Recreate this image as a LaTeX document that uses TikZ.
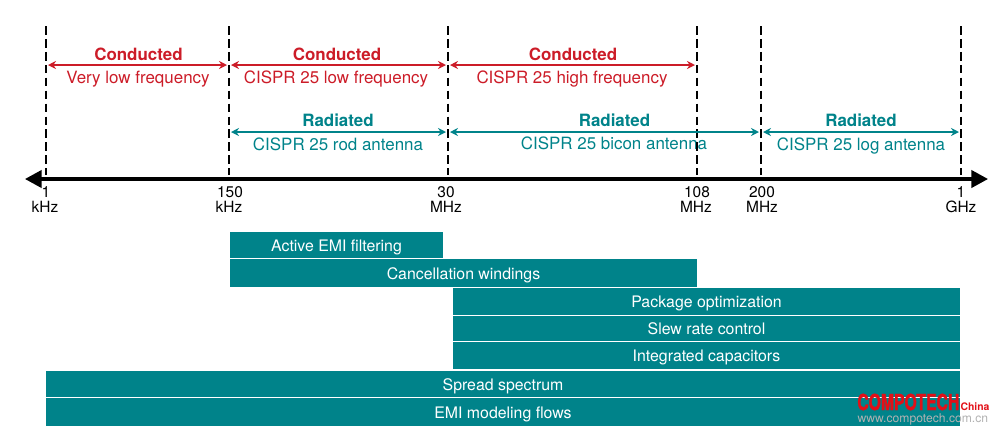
\documentclass[tikz,border=0pt]{standalone}
\usepackage{fontspec}
\setmainfont{TeX Gyre Heros}
\newfontfamily\markfont[BoldFeatures={FakeBold=2}]{TeX Gyre Heros}
\usetikzlibrary{arrows.meta}

\definecolor{condred}{RGB}{204,28,40}
\definecolor{radteal}{RGB}{0,131,138}
\definecolor{markred}{RGB}{226,16,24}

\tikzset{
    every picture/.style={line width=0.75pt},
    tickline/.style={line width=1.5pt, dash pattern=on 6.5pt off 3.2pt},
    axisline/.style={line width=2.3pt, {Triangle[length=12.5pt,width=13pt]}-{Triangle[length=12.5pt,width=13pt]}},
    bandarrow/.style={line width=1.1pt, {Stealth[length=6pt,width=6pt]}-{Stealth[length=6pt,width=6pt]}, shorten >=1.5pt, shorten <=1.5pt},
    headtext/.style={anchor=base, inner sep=0pt, font=\fontsize{12.7pt}{14pt}\selectfont\bfseries},
    subtext/.style={anchor=base, inner sep=0pt, font=\fontsize{12.7pt}{14pt}\selectfont},
    ticktext/.style={anchor=base, inner sep=0pt, font=\fontsize{11.6pt}{13pt}\selectfont},
    barbox/.style 2 args={fill=radteal, text=white, inner sep=0pt, minimum width=#1*0.75pt, minimum height=#2*0.75pt,
        text height=9.2pt, text depth=0pt, font=\fontsize{11.9pt}{14pt}\selectfont},
}

\begin{document}
\begin{tikzpicture}[x=0.75pt,y=0.75pt,yscale=-1,xscale=1]
    \useasboundingbox (0,0) rectangle (996,430);

    % Coordinates of the ticks
    \coordinate (topA) at (46,26);   \coordinate (axisA) at (46,175);
    \coordinate (topB) at (229,26);  \coordinate (axisB) at (229,175);
    \coordinate (topC) at (448,26);  \coordinate (axisC) at (448,175);
    \coordinate (topD) at (697,26);  \coordinate (axisD) at (697,175);
    \coordinate (topE) at (761,26);  \coordinate (axisE) at (761,175);
    \coordinate (topF) at (961,26);  \coordinate (axisF) at (961,175);
    \coordinate (axisL) at (25,179); \coordinate (axisR) at (988,179);

    % Coordinates of the bands
    \coordinate (condA) at (46,65);  \coordinate (condB) at (229,65);
    \coordinate (condC) at (448,65); \coordinate (condD) at (697,65);
    \coordinate (radB) at (229,132); \coordinate (radC) at (448,132);
    \coordinate (radE) at (761,132); \coordinate (radF) at (961,132);

    % Text Node
    \node [headtext, text=condred] (condhead1) at (138.5,60) {Conducted};
    \node [subtext, text=condred] (condsub1) at (138,83.3) {Very low frequency};
    \node [headtext, text=condred] (condhead2) at (337,60) {Conducted};
    \node [subtext, text=condred] (condsub2) at (336,83.3) {CISPR 25 low frequency};
    \node [headtext, text=condred] (condhead3) at (573,60) {Conducted};
    \node [subtext, text=condred] (condsub3) at (572,83.3) {CISPR 25 high frequency};
    \node [headtext, text=radteal] (radhead1) at (338,126.7) {Radiated};
    \node [subtext, text=radteal] (radsub1) at (338,150) {CISPR 25 rod antenna};
    \node [headtext, text=radteal] (radhead2) at (614.5,126) {Radiated};
    \node [subtext, text=radteal] (radsub2) at (614,149) {CISPR 25 bicon antenna};
    \node [headtext, text=radteal] (radhead3) at (861,126.7) {Radiated};
    \node [subtext, text=radteal] (radsub3) at (861,150) {CISPR 25 log antenna};

    % Dashed Lines
    \draw [tickline] (topA) -- (axisA);
    \draw [tickline] (topB) -- (axisB);
    \draw [tickline] (topC) -- (axisC);
    \draw [tickline] (topD) -- (axisD);
    \draw [tickline] (topE) -- (axisE);
    \draw [tickline] (topF) -- (axisF);

    % Band Arrows
    \draw [bandarrow, condred] (condA) -- (condB);
    \draw [bandarrow, condred] (condB) -- (condC);
    \draw [bandarrow, condred] (condC) -- (condD);
    \draw [bandarrow, radteal] (radB) -- (radC);
    \draw [bandarrow, radteal] (radC) -- (radE);
    \draw [bandarrow, radteal] (radE) -- (radF);

    % Axis
    \draw [axisline] (axisL) -- (axisR);

    % Text Node
    \node [ticktext] (value1) at (46,197) {1};
    \node [ticktext] (unit1) at (45,212) {kHz};
    \node [ticktext] (value2) at (230,197) {150};
    \node [ticktext] (unit2) at (229,212) {kHz};
    \node [ticktext] (value3) at (446,197) {30};
    \node [ticktext] (unit3) at (446,212) {MHz};
    \node [ticktext] (value4) at (697,197) {108};
    \node [ticktext] (unit4) at (696,212) {MHz};
    \node [ticktext] (value5) at (762,197) {200};
    \node [ticktext] (unit5) at (762,212) {MHz};
    \node [ticktext] (value6) at (961,197) {1};
    \node [ticktext] (unit6) at (961,212) {GHz};

    % Bars
    \node [barbox={213}{26}] (filtering) at (336.5,245) {Active EMI filtering};
    \node [barbox={467}{28}] (windings) at (463.5,273) {Cancellation windings};
    \node [barbox={507}{27}] (package) at (706.5,301.5) {Package optimization};
    \node [barbox={507}{25}] (slewrate) at (706.5,328.5) {Slew rate control};
    \node [barbox={507}{27}] (capacitors) at (706.5,355.5) {Integrated capacitors};
    \node [barbox={914}{26}] (spectrum) at (503,384) {Spread spectrum};
    \node [barbox={914}{28}] (modeling) at (503,412) {EMI modeling flows};

    % Text Node
    \node [anchor=base west, inner sep=0pt, text=markred, xscale=0.715, font=\fontsize{16.5pt}{18pt}\selectfont\markfont\bfseries] (markname) at (857,410) {COMPOTECH};
    \node [anchor=base west, inner sep=0pt, text=markred, font=\fontsize{7.8pt}{9pt}\selectfont\bfseries] (markcountry) at (960,410) {China};
    \node [anchor=base west, inner sep=0pt, text=black!30, font=\fontsize{9.1pt}{10pt}\selectfont] (markweb) at (857,422.5) {www.compotech.com.cn};

\end{tikzpicture}
\end{document}
